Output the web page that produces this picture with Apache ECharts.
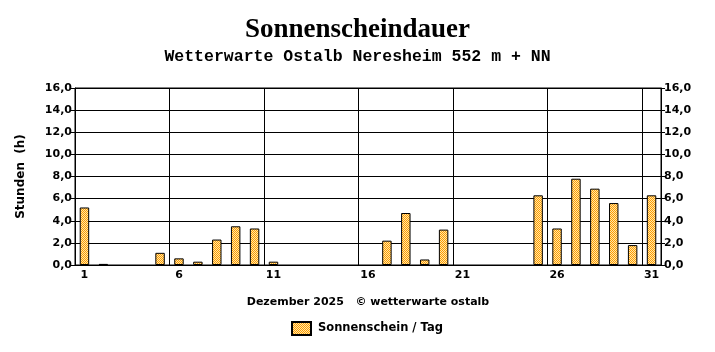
<!DOCTYPE html>
<html>
<head>
<meta charset="utf-8">
<script src="https://cdn.jsdelivr.net/npm/echarts@6/dist/echarts.min.js"></script>
<style>
  html, body { margin: 0; padding: 0; background: #fff; }
  #main { width: 715px; height: 352px; }
</style>
</head>
<body>
<div id="main"></div>
<script>
// Tage im Dezember 2025
var days = ['1','2','3','4','5','6','7','8','9','10','11','12','13','14','15','16',
            '17','18','19','20','21','22','23','24','25','26','27','28','29','30','31'];
// Sonnenscheindauer in Stunden pro Tag
var sunHours = [5.2, 0.1, 0, 0, 1.1, 0.6, 0.3, 2.3, 3.5, 3.3, 0.3, 0, 0, 0, 0, 0,
                2.2, 4.7, 0.5, 3.2, 0, 0, 0, 0, 6.3, 3.3, 7.8, 6.9, 5.6, 1.8, 6.3];
var yTicks = { min: 0, max: 16, interval: 2 };

// Karomuster fuer die Balken
function makePattern(){
    var c = document.createElement('canvas');
    c.width = 2; c.height = 2;
    var ctx = c.getContext('2d');
    ctx.fillStyle = '#ffe6a8';
    ctx.fillRect(0, 0, 2, 2);
    ctx.fillStyle = '#ff9c00';
    ctx.fillRect(0, 0, 1, 1);
    ctx.fillRect(1, 1, 1, 1);
    return c;
}

var font = 'DejaVu Sans';
var fmt = function(v){ return v.toFixed(1).replace('.', ','); };

// Tage ohne Sonne: keinen Rahmen zeichnen
var barData = sunHours.map(function(v){
    return v === 0 ? { value: v, itemStyle: { borderWidth: 0 } } : v;
});

var myChart = echarts.init(document.getElementById('main'));

var yAxisBase = {
    type: 'value',
    min: yTicks.min,
    max: yTicks.max,
    interval: yTicks.interval,
    axisLine: { show: true, lineStyle: { color: '#000', width: 1 } },
    axisTick: { show: true, length: 4, lineStyle: { color: '#000' } },
    axisLabel: { formatter: fmt, color: '#000', fontFamily: font, fontWeight: 'bold', fontSize: 11, margin: 3 }
};

var option = {
    animation: false,
    title: {
        text: 'Sonnenscheindauer',
        subtext: 'Wetterwarte Ostalb Neresheim 552 m + NN',
        left: 'center',
        top: 12,
        itemGap: 4,
        textStyle: { fontFamily: 'Liberation Serif', fontWeight: 'bold', fontSize: 27, color: '#000' },
        subtextStyle: { fontFamily: 'Liberation Mono', fontWeight: 'bold', fontSize: 16.5, color: '#000' }
    },
    grid: {
        left: 75, right: 54, top: 88, bottom: 87,
        show: true, borderColor: '#000', borderWidth: 1
    },
    legend: {
        top: 321,
        left: 291,
        icon: 'rect',
        itemWidth: 19,
        itemHeight: 13,
        itemGap: 7,
        padding: 0,
        textStyle: { fontFamily: font, fontWeight: 'bold', fontSize: 11.5, color: '#000', padding: [0, 0, 0, 2] },
        data: ['Sonnenschein / Tag']
    },
    xAxis: {
        type: 'category',
        data: days,
        boundaryGap: true,
        name: 'Dezember 2025   \u00a9 wetterwarte ostalb',
        nameLocation: 'middle',
        nameGap: 32,
        nameTextStyle: { fontFamily: font, fontWeight: 'bold', fontSize: 11, color: '#000' },
        axisLine: { lineStyle: { color: '#000', width: 1 } },
        axisTick: { interval: 0, length: 4, lineStyle: { color: '#000' } },
        axisLabel: {
            interval: function(i){ return i % 5 === 0; },
            color: '#000', fontFamily: font, fontWeight: 'bold', fontSize: 11, margin: 5
        },
        splitLine: {
            show: true,
            interval: function(i){ return i > 0 && i % 5 === 0; },
            lineStyle: { color: '#000', width: 1 }
        }
    },
    yAxis: [
        echarts.util.merge({
            position: 'left',
            name: 'Stunden  (h)',
            nameLocation: 'middle',
            nameGap: 48,
            nameRotate: 90,
            nameTextStyle: { fontFamily: font, fontWeight: 'bold', fontSize: 12, color: '#000' },
            splitLine: { show: true, lineStyle: { color: '#000', width: 1 } }
        }, echarts.util.clone(yAxisBase), true),
        echarts.util.merge({
            position: 'right',
            splitLine: { show: false }
        }, echarts.util.clone(yAxisBase), true)
    ],
    series: [{
        name: 'Sonnenschein / Tag',
        type: 'bar',
        data: barData,
        barWidth: '50%',
        itemStyle: {
            color: { image: makePattern(), repeat: 'repeat' },
            borderColor: '#000',
            borderWidth: 1
        }
    }]
};
myChart.setOption(option);
</script>
</body>
</html>
